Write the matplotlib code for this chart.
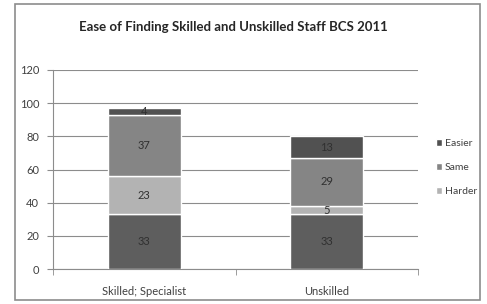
import numpy as np
import matplotlib
matplotlib.use('Agg')
import matplotlib.pyplot as plt
from matplotlib.patches import Rectangle

categories = ["Skilled; Specialist", "Unskilled"]
base = [33, 33]        # bottom series, no legend name
harder = [23, 5]
same = [37, 29]
easier = [4, 13]

COL_BASE = "#5e5e5e"
COL_HARDER = "#b3b3b3"
COL_SAME = "#858585"
COL_EASIER = "#515151"
TXT = "#404040"

plt.rcParams['font.family'] = ['Lato', 'DejaVu Sans']

fig = plt.figure(figsize=(4.87, 3.04), dpi=100)
# outer chart border
fig.patches.append(Rectangle((15 / 487, 4 / 304), 465 / 487, 296 / 304,
                             transform=fig.transFigure, fill=False,
                             edgecolor="#8c8c8c", linewidth=1.2))

ax = fig.add_axes([53 / 487, 1 - 269 / 304, 365 / 487, 199 / 304])
x = np.arange(len(categories))
w = 0.4
bottom = np.zeros(len(categories))
series = [(base, COL_BASE, None), (harder, COL_HARDER, "Harder"),
          (same, COL_SAME, "Same"), (easier, COL_EASIER, "Easier")]
handles = {}
for vals, col, name in series:
    bars = ax.bar(x, vals, w, bottom=bottom, color=col, edgecolor="white",
                  linewidth=1.0, zorder=3)
    for xi, b, v in zip(x, bottom, vals):
        ax.text(xi, b + v / 2, str(v), ha="center", va="center",
                fontsize=8, color="#303030", zorder=4)
    if name:
        handles[name] = bars
    bottom += np.array(vals)

ax.set_xlim(-0.5, 1.5)
ax.set_ylim(0, 120)
ax.set_yticks(range(0, 121, 20))
ax.set_xticks(x)
ax.set_xticklabels(categories)
ax.set_xticks([-0.5, 0.5, 1.5], minor=True)
ax.tick_params(axis="x", which="major", length=0, pad=12, labelsize=8,
               labelcolor=TXT)
ax.tick_params(axis="x", which="minor", length=4, color="#8c8c8c")
ax.tick_params(axis="y", length=4, color="#8c8c8c", labelsize=8,
               labelcolor=TXT, pad=6)
ax.grid(axis="y", color="#8c8c8c", linewidth=0.8, zorder=0)
for s in ["top", "right"]:
    ax.spines[s].set_visible(False)
for s in ["left", "bottom"]:
    ax.spines[s].set_color("#8c8c8c")
    ax.spines[s].set_linewidth(0.8)

fig.text(233 / 487, 1 - 27 / 304,
         "Ease of Finding Skilled and Unskilled Staff BCS 2011",
         ha="center", va="center", fontsize=9.5, fontweight="bold",
         color="#262626")

leg = fig.legend([handles["Easier"], handles["Same"], handles["Harder"]],
                 ["Easier", "Same", "Harder"], loc="upper left",
                 bbox_to_anchor=(431 / 487, 1 - 134 / 304), frameon=False,
                 fontsize=7.5, handlelength=0.6, handleheight=0.6,
                 handletextpad=0.25, labelspacing=1.45, borderpad=0)
for t in leg.get_texts():
    t.set_color(TXT)

fig.savefig("out.png", dpi=100)
